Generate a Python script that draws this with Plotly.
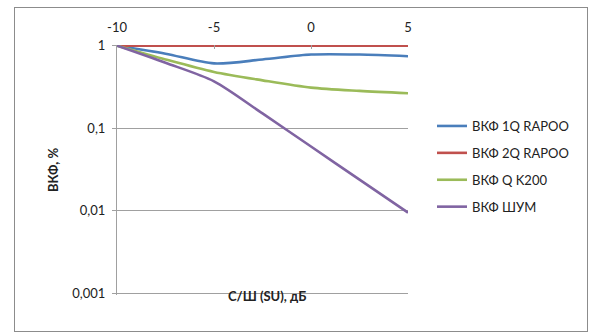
import plotly.graph_objects as go

# Signal-to-noise ratio, dB
snr_db = [-10, -7.5, -5, -2.5, 0, 2.5, 5]

# ВКФ curves (log scale values)
vkf_1q_rapoo = [1.0, 0.80, 0.61, 0.68, 0.78, 0.78, 0.745]
vkf_2q_rapoo = [1.0, 1.0, 1.0, 1.0, 1.0, 1.0, 1.0]
vkf_q_k200 = [1.0, 0.68, 0.48, 0.38, 0.31, 0.283, 0.265]
vkf_noise = [1.0, 0.62, 0.37, 0.151, 0.06, 0.0238, 0.0095]

series_names = ["ВКФ 1Q RAPOO", "ВКФ 2Q RAPOO", "ВКФ Q K200", "ВКФ ШУМ"]
series_colors = ["#4A7EBB", "#C0504D", "#9BBB59", "#8064A2"]

y_tick_vals = [0.001, 0.01, 0.1, 1]
y_tick_text = ["0,001", "0,01", "0,1", "1"]
x_tick_vals = [-10, -5, 0, 5]
x_tick_text = ["-10", "-5", "0", "5"]

W, H = 589, 334
L, R, T, B = 117, 181, 45, 39
pw, ph = W - L - R, H - T - B

def px_x(p):
    return (p - L) / pw

def px_y(p):
    return 1 - (p - T) / ph

FONT = "Lato"
GRID = "#A0A0A0"
FRAME = "#8C8C8C"

fig = go.Figure()
for name, color, ys in zip(series_names, series_colors,
                           [vkf_1q_rapoo, vkf_2q_rapoo, vkf_q_k200, vkf_noise]):
    fig.add_trace(go.Scatter(
        x=snr_db, y=ys, name=name, mode="lines",
        line=dict(color=color, width=2.6, shape="spline", smoothing=0.8),
        legendgroup=name,
    ))

fig.update_layout(
    width=W, height=H,
    margin=dict(l=L, r=R, t=T, b=B, pad=0),
    paper_bgcolor="white", plot_bgcolor="white",
    font=dict(family=FONT, size=12, color="#222222"),
    showlegend=True,
    legend=dict(x=px_x(432), y=px_y(111), xanchor="left", yanchor="top",
                font=dict(family=FONT, size=13, color="#222222"),
                tracegroupgap=7, itemwidth=30, bgcolor="rgba(0,0,0,0)"),
    xaxis=dict(side="top", range=[-10, 5], tickvals=x_tick_vals, ticktext=x_tick_text,
               showgrid=False, zeroline=False, showline=False,
               ticks="inside", ticklen=4, tickcolor=GRID, ticklabelstandoff=9,
               tickfont=dict(family=FONT, size=13, color="#222222")),
    # the lower bound sits a little below 0,001 so that gridline is drawn
    yaxis=dict(type="log", range=[-3.02, 0.008], tickvals=y_tick_vals, ticktext=y_tick_text,
               showgrid=True, gridcolor=GRID, gridwidth=1, zeroline=False,
               showline=True, linecolor=GRID, linewidth=1,
               ticks="outside", ticklen=4, tickcolor=GRID, ticklabelstandoff=4,
               tickfont=dict(family=FONT, size=13, color="#222222")),
    annotations=[
        # outer chart frame as an empty bordered box
        dict(text=" ", xref="paper", yref="paper",
             x=px_x(300.5), y=px_y(169), xanchor="center", yanchor="middle",
             width=572, height=323, borderpad=0, borderwidth=1,
             bordercolor=FRAME, showarrow=False),
        dict(text="<b>С/Ш (SU), дБ</b>", xref="paper", yref="paper",
             x=px_x(267), y=px_y(306), showarrow=False,
             font=dict(family=FONT, size=13, color="#222222")),
        dict(text="<b>ВКФ, %</b>", xref="paper", yref="paper",
             x=px_x(43), y=px_y(170), showarrow=False, textangle=-90,
             font=dict(family=FONT, size=13, color="#222222")),
    ],
)

fig.write_html("out.html")
